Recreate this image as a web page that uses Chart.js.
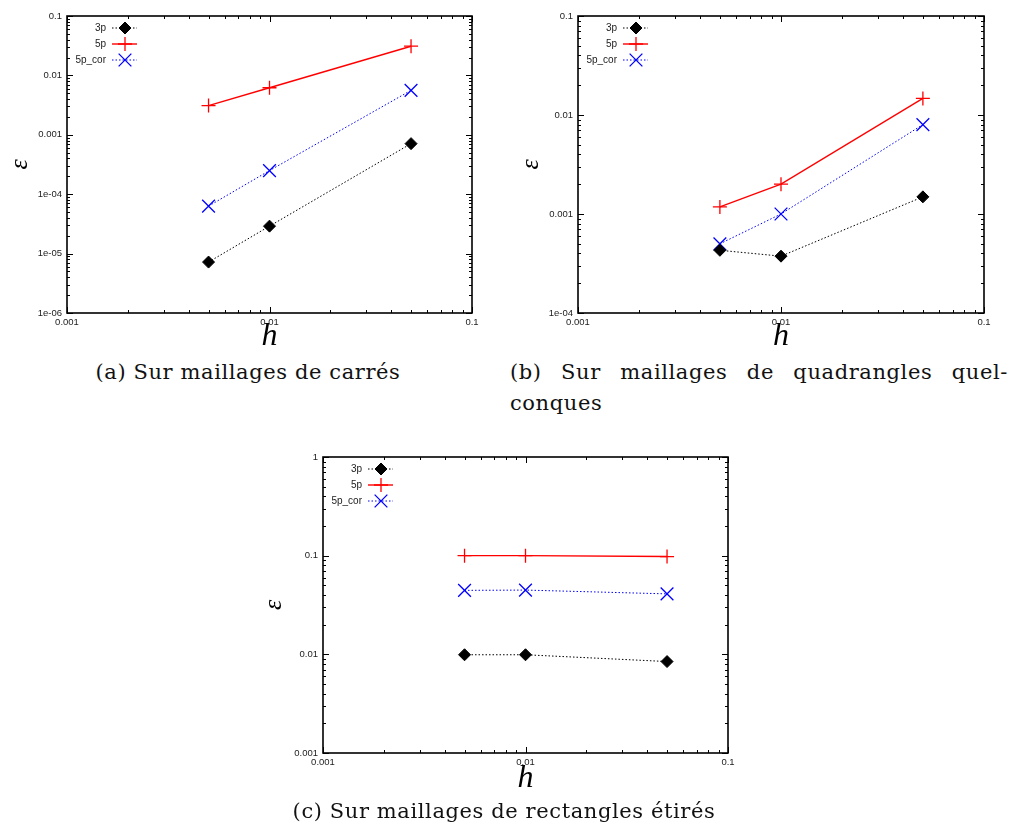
<!DOCTYPE html>
<html>
<head>
<meta charset="utf-8">
<script src="https://cdn.jsdelivr.net/npm/chart.js@4"></script>
<style>
  body { margin: 0; background: #fff; width: 1010px; height: 825px; position: relative; overflow: hidden; }
  .box { position: absolute; }
  .cap { position: absolute; font-family: "DejaVu Serif", serif; font-size: 21px; letter-spacing: 0.6px; line-height: 30px; color: #111; white-space: nowrap; }
</style>
</head>
<body>
<div class="box" style="left:0;top:0"><canvas id="chartA" width="490" height="356"></canvas></div>
<div class="box" style="left:500px;top:0"><canvas id="chartB" width="510" height="356"></canvas></div>
<div class="box" style="left:250px;top:440px"><canvas id="chartC" width="500" height="360"></canvas></div>

<div class="cap" style="left:0;width:496px;top:357px;text-align:center">(a) Sur maillages de carrés</div>
<div class="cap" style="left:510px;width:498px;top:357px;text-align:justify;text-align-last:justify;white-space:normal">(b) Sur maillages de quadrangles quel-</div>
<div class="cap" style="left:510px;top:388px">conques</div>
<div class="cap" style="left:250px;width:508px;top:796px;text-align:center">(c) Sur maillages de rectangles étirés</div>

<script>
// pas du maillage
const hValues = [0.005, 0.01, 0.05];
const seriesNames = ['3p', '5p', '5p_cor'];

// (a) carrés
const errA3p = [7.2e-6, 2.9e-5, 7.1e-4];
const errA5p = [3.1e-3, 6.2e-3, 3.1e-2];
const errA5pCor = [6.3e-5, 2.5e-4, 5.6e-3];

// (b) quadrangles quelconques
const errB3p = [4.3e-4, 3.75e-4, 1.49e-3];
const errB5p = [1.18e-3, 2.0e-3, 1.47e-2];
const errB5pCor = [5.0e-4, 1.0e-3, 8.0e-3];

// (c) rectangles étirés
const errC3p = [0.0099, 0.0099, 0.00845];
const errC5p = [0.1, 0.1, 0.098];
const errC5pCor = [0.0445, 0.0448, 0.041];

// graduations
const xTickValues = [0.001, 0.01, 0.1];
const xTickLabels = ['0.001', '0.01', '0.1'];
const yTickValuesA = [1e-6, 1e-5, 1e-4, 1e-3, 1e-2, 1e-1];
const yTickLabelsA = ['1e-06', '1e-05', '1e-04', '0.001', '0.01', '0.1'];
const yTickValuesB = [1e-4, 1e-3, 1e-2, 1e-1];
const yTickLabelsB = ['1e-04', '0.001', '0.01', '0.1'];
const yTickValuesC = [1e-3, 1e-2, 1e-1, 1];
const yTickLabelsC = ['0.001', '0.01', '0.1', '1'];

const tickFont = { family: 'Liberation Sans, Arial, sans-serif', size: 9.5 };

function drawMarker(ctx, ds, x, y) {
  if (Chart.helpers && Chart.helpers.drawPoint) {
    Chart.helpers.drawPoint(ctx, {
      pointStyle: ds.pointStyle, radius: ds.pointRadius, borderWidth: ds.pointBorderWidth, rotation: 0
    }, x, y);
  }
}

// cadre, petites graduations et légende à la gnuplot
const gnuplotFrame = {
  id: 'gnuplotFrame',
  afterDatasetsDraw(chart) {
    const { ctx, chartArea: a } = chart;
    const xs = chart.scales.x, ys = chart.scales.y;
    ctx.save();
    ctx.strokeStyle = '#000';
    ctx.lineWidth = 1;
    const logVals = (sc) => {
      const out = [];
      for (let e = Math.floor(Math.log10(sc.min)); e <= Math.ceil(Math.log10(sc.max)); e++) {
        for (let k = 1; k <= 9; k++) {
          const v = k * Math.pow(10, e);
          if (v >= sc.min * 0.999 && v <= sc.max * 1.001) out.push([v, k === 1]);
        }
      }
      return out;
    };
    ctx.beginPath();
    logVals(xs).forEach(([v, major]) => {
      const p = Math.round(xs.getPixelForValue(v)) + 0.5;
      const len = major ? 6 : 3;
      ctx.moveTo(p, a.bottom); ctx.lineTo(p, a.bottom - len);
      ctx.moveTo(p, a.top); ctx.lineTo(p, a.top + len);
    });
    logVals(ys).forEach(([v, major]) => {
      const p = Math.round(ys.getPixelForValue(v)) + 0.5;
      const len = major ? 6 : 3;
      ctx.moveTo(a.left, p); ctx.lineTo(a.left + len, p);
      ctx.moveTo(a.right, p); ctx.lineTo(a.right - len, p);
    });
    ctx.stroke();
    ctx.lineWidth = 1.6;
    ctx.strokeRect(a.left, a.top, a.right - a.left, a.bottom - a.top);

    // légende
    ctx.font = '10px Liberation Sans, Arial, sans-serif';
    ctx.textAlign = 'right';
    ctx.textBaseline = 'middle';
    chart.data.datasets.forEach((ds, i) => {
      const yy = a.top + 12 + 16 * i;
      ctx.fillStyle = '#222';
      ctx.fillText(ds.label, a.left + 39, yy);
      ctx.save();
      ctx.strokeStyle = ds.borderColor;
      ctx.lineWidth = ds.borderWidth;
      ctx.setLineDash(ds.borderDash || []);
      ctx.beginPath();
      ctx.moveTo(a.left + 45, yy); ctx.lineTo(a.left + 70, yy);
      ctx.stroke();
      ctx.setLineDash([]);
      ctx.fillStyle = ds.pointBackgroundColor;
      ctx.strokeStyle = ds.pointBorderColor;
      ctx.lineWidth = ds.pointBorderWidth;
      drawMarker(ctx, ds, a.left + 58, yy);
      ctx.restore();
    });
    ctx.restore();
  }
};

function makeSeries(values) {
  return values.map((v, i) => ({ x: hValues[i], y: v }));
}

function makeChart(id, s3p, s5p, s5pCor, yVals, yLabels, g) {
  const datasets = [
    { label: seriesNames[0], data: makeSeries(s3p), borderColor: '#000', borderWidth: 1, borderDash: [1.5, 2],
      pointStyle: 'rectRot', pointRadius: 6, pointBorderWidth: 1, pointBackgroundColor: '#000', pointBorderColor: '#000' },
    { label: seriesNames[1], data: makeSeries(s5p), borderColor: '#ff0000', borderWidth: 1.4, borderDash: [],
      pointStyle: 'cross', pointRadius: 7, pointBorderWidth: 1.3, pointBackgroundColor: '#ff0000', pointBorderColor: '#ff0000' },
    { label: seriesNames[2], data: makeSeries(s5pCor), borderColor: '#0000ff', borderWidth: 1, borderDash: [1.5, 2],
      pointStyle: 'crossRot', pointRadius: 9, pointBorderWidth: 1.3, pointBackgroundColor: '#0000ff', pointBorderColor: '#0000ff' }
  ];
  return new Chart(document.getElementById(id), {
    type: 'line',
    data: { datasets },
    options: {
      responsive: false,
      animation: false,
      layout: { padding: { top: g.top, right: g.right, left: 0, bottom: 0 } },
      plugins: { legend: { display: false }, tooltip: { enabled: false } },
      elements: { line: { tension: 0 } },
      scales: {
        x: {
          type: 'logarithmic', min: 0.001, max: 0.1,
          grid: { display: false, drawTicks: false }, border: { display: false },
          afterBuildTicks: (sc) => { sc.ticks = xTickValues.map(v => ({ value: v })); },
          afterFit: (sc) => { sc.height = g.xh; },
          ticks: { font: tickFont, color: '#222', padding: 4, maxRotation: 0, autoSkip: false,
                   callback: (v, i) => xTickLabels[i] },
          title: { display: true, text: 'h', color: '#000', padding: { top: 0, bottom: g.hPad },
                   font: { family: 'Liberation Serif, serif', style: 'italic', size: 32 } }
        },
        y: {
          type: 'logarithmic', min: yVals[0], max: yVals[yVals.length - 1],
          grid: { display: false, drawTicks: false }, border: { display: false },
          afterBuildTicks: (sc) => { sc.ticks = yVals.map(v => ({ value: v })); },
          afterFit: (sc) => { sc.width = g.yw; },
          ticks: { font: tickFont, color: '#222', padding: 5, autoSkip: false,
                   callback: (v, i) => yLabels[i] },
          title: { display: true, text: 'ε', color: '#000', padding: { top: g.ePad, bottom: 0 },
                   font: { family: 'Liberation Serif, serif', style: 'italic', size: 26 } }
        }
      }
    },
    plugins: [gnuplotFrame]
  });
}

makeChart('chartA', errA3p, errA5p, errA5pCor, yTickValuesA, yTickLabelsA,
  { top: 16, right: 18, yw: 67, xh: 43, hPad: 0, ePad: 5 });
makeChart('chartB', errB3p, errB5p, errB5pCor, yTickValuesB, yTickLabelsB,
  { top: 16, right: 26, yw: 78, xh: 43, hPad: 0, ePad: 16 });
makeChart('chartC', errC3p, errC5p, errC5pCor, yTickValuesC, yTickLabelsC,
  { top: 17, right: 22, yw: 73, xh: 47, hPad: 2, ePad: 9 });
</script>
</body>
</html>
